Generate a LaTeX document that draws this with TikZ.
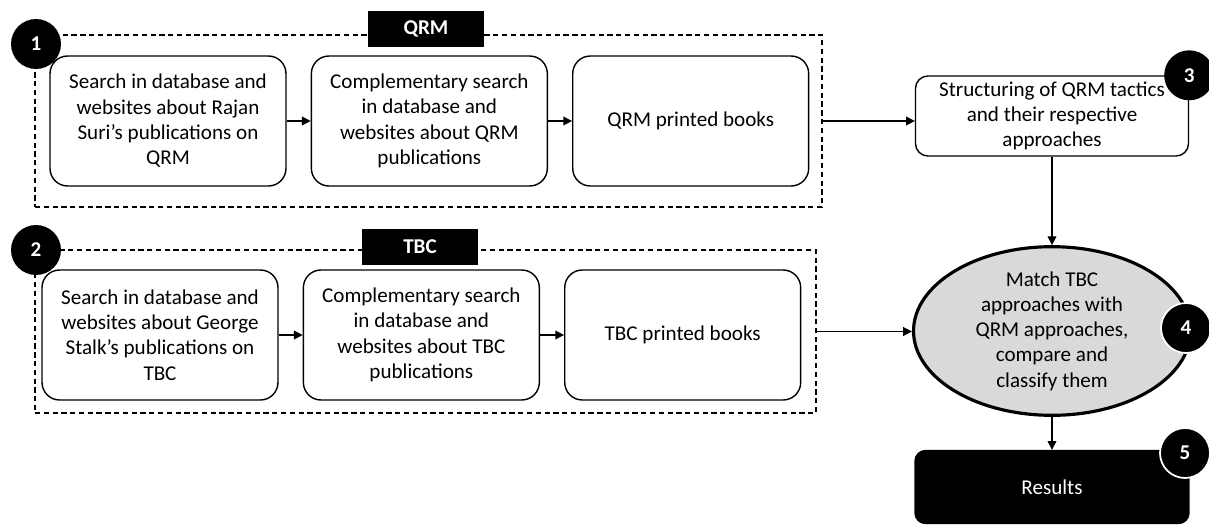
\documentclass[tikz,border=0pt]{standalone}
\usepackage{fontspec}
\setmainfont{Carlito}
\usetikzlibrary{positioning,fit,shapes.geometric,arrows.meta}
\definecolor{matchgray}{RGB}{217,217,217}

\begin{document}
\begin{tikzpicture}
      [ x=0.02cm, y=-0.02cm,
        font=\fontsize{12}{14.4}\selectfont,
        >={Triangle[length=5pt,width=5pt]},
        stepbox/.style={draw, line width=0.8pt, rounded corners=10pt, align=center,
                        minimum width=4.72cm, minimum height=2.6cm, inner sep=1pt},
        groupframe/.style={draw, dash pattern=on 3pt off 2pt, line width=0.6pt, inner sep=0pt},
        grouptag/.style={fill=black, text=white, font=\fontsize{12}{14}\selectfont\bfseries,
                         minimum width=2.34cm, minimum height=0.72cm},
        numdot/.style={circle, fill=black, text=white, font=\fontsize{12}{14}\selectfont\bfseries,
                       minimum size=1cm, inner sep=0pt},
        numring/.style={numdot, draw=white, line width=1pt},
        flow/.style={->, line width=0.7pt}
      ]
      \useasboundingbox (0,0) rectangle (1209,524);

      % QRM group
      \node[stepbox]  (q1) at (168,121)          {Search in database and\\websites about Rajan\\Suri's publications on\\QRM};
      \node[stepbox]  (q2) [right=0.48cm of q1]  {Complementary search\\in database and\\websites about QRM\\publications};
      \node[stepbox]  (q3) [right=0.48cm of q2]  {QRM printed books};
      \node[groupframe, fit={(35,35) (822,207)}] (qrm) {};
      \node[grouptag] (qrmtag) at (426,29) {QRM};
      \node[numdot]   (n1) at (36,44) {1};

      % TBC group
      \node[stepbox]  (t1) at (160,335)          {Search in database and\\websites about George\\Stalk's publications on\\TBC};
      \node[stepbox]  (t2) [right=0.48cm of t1]  {Complementary search\\in database and\\websites about TBC\\publications};
      \node[stepbox]  (t3) [right=0.48cm of t2]  {TBC printed books};
      \node[groupframe, fit={(35,250) (816,413)}] (tbc) {};
      \node[grouptag] (tbctag) at (420,247) {TBC};
      \node[numdot]   (n2) at (36,250) {2};

      % right column
      \node[stepbox, rounded corners=7pt, minimum width=5.46cm, minimum height=1.6cm]
                      (s3) at (1052,116) {Structuring of QRM tactics\\and their respective\\approaches};
      \node[numdot]   (n3) at (s3.north east) {3};
      \node[ellipse, draw, line width=1.8pt, fill=matchgray, align=center,
            minimum width=5.54cm, minimum height=2.92cm, inner sep=0pt]
                      (match) at (1052,331) {Match TBC\\approaches with\\QRM approaches,\\compare and\\classify them};
      \node[numring]  (n4) at (1186,328) {4};
      \node[draw, fill=black, text=white, rounded corners=6pt, line width=0.8pt,
            minimum width=5.48cm, minimum height=1.46cm]
                      (res) at (1052,487) {Results};
      \node[numring]  (n5) at (1185,453) {5};

      \draw[flow] (q1) -- (q2);
      \draw[flow] (q2) -- (q3);
      \draw[flow] (t1) -- (t2);
      \draw[flow] (t2) -- (t3);
      \draw[flow] (qrm.east) -- (qrm.east -| s3.west);
      \draw[flow] (tbc.east) -- (tbc.east -| match.west);
      \draw[flow] (s3) -- (match);
      \draw[flow] (match) -- (res);
    \end{tikzpicture}
\end{document}
